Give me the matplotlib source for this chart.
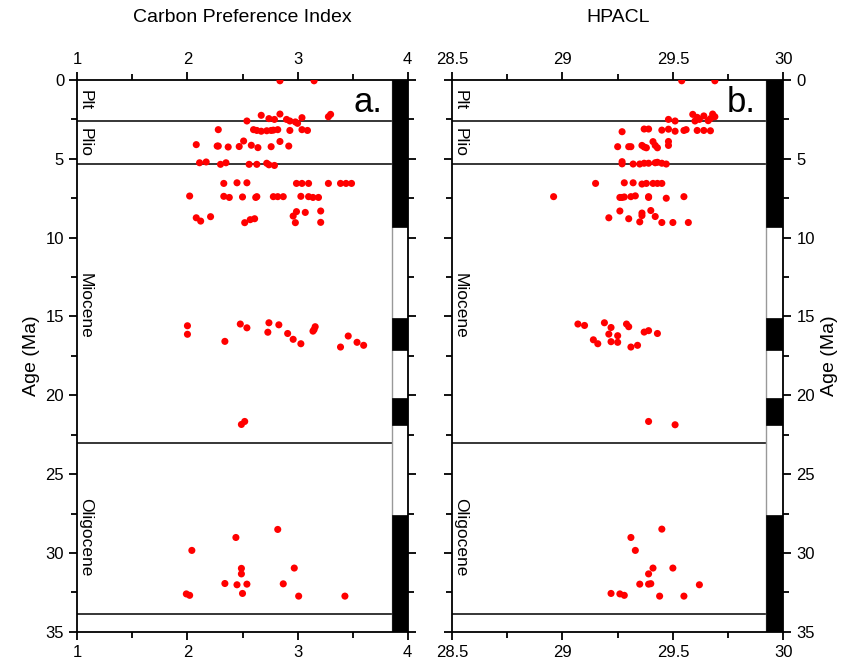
import matplotlib.pyplot as plt
from matplotlib.patches import Rectangle
from matplotlib.ticker import MultipleLocator

plt.rcParams['font.family'] = ['Liberation Sans', 'DejaVu Sans']

# Carbon Preference Index vs age (Ma)
cpi_val = [2.84, 3.15,
           2.67, 2.74, 2.79, 2.84, 2.90, 2.93, 2.98, 3.00, 3.04, 3.28, 3.30, 2.54,
           2.28, 2.60, 2.63, 2.67, 2.72, 2.76, 2.78, 2.82, 2.93, 3.04, 3.09,
           2.08, 2.27, 2.28, 2.37, 2.47, 2.51, 2.58, 2.64, 2.76, 2.84, 2.92,
           2.11, 2.17, 2.30, 2.35, 2.56, 2.63, 2.72, 2.74, 2.79,
           2.33, 2.45, 2.54, 2.99, 3.04, 3.10, 3.28, 3.39, 3.44, 3.49,
           2.02, 2.33, 2.38, 2.50, 2.62, 2.63, 2.78, 2.82, 2.87, 3.03, 3.10, 3.14, 3.19,
           2.08, 2.12, 2.21, 2.52, 2.57, 2.61, 2.96, 2.99, 3.07, 2.98, 3.21, 3.21,
           2.00, 2.00, 2.34, 2.48, 2.54, 2.74, 2.73, 2.83, 2.91, 2.96, 3.03,
           3.16, 3.15, 3.14, 3.39, 3.46, 3.54, 3.60, 2.49, 2.52,
           2.04, 1.99, 2.02, 2.44, 2.82, 2.49, 2.49, 2.34, 2.45, 2.54, 2.50,
           2.97, 2.87, 3.01, 3.43]
cpi_age = [0.05, 0.05,
           2.24, 2.45, 2.50, 2.16, 2.50, 2.60, 2.66, 2.75, 2.39, 2.33, 2.18, 2.60,
           3.15, 3.15, 3.20, 3.25, 3.22, 3.20, 3.18, 3.15, 3.20, 3.15, 3.20,
           4.10, 4.19, 4.19, 4.25, 4.22, 3.87, 4.14, 4.29, 4.23, 3.90, 4.19,
           5.25, 5.20, 5.35, 5.25, 5.35, 5.35, 5.28, 5.38, 5.42,
           6.56, 6.52, 6.52, 6.56, 6.56, 6.56, 6.56, 6.56, 6.56, 6.56,
           7.36, 7.38, 7.45, 7.42, 7.45, 7.40, 7.40, 7.40, 7.40, 7.38, 7.40, 7.45, 7.45,
           8.74, 8.95, 8.67, 9.05, 8.86, 8.80, 8.63, 8.35, 8.40, 9.05, 8.31, 9.03,
           15.59, 16.13, 16.58, 15.48, 15.72, 15.40, 16.00, 15.53, 16.08, 16.45, 16.73,
           15.65, 15.83, 15.93, 16.94, 16.24, 16.64, 16.83, 21.85, 21.66,
           29.84, 32.60, 32.69, 29.02, 28.51, 30.98, 31.33, 31.94, 32.02, 31.98, 32.57,
           30.96, 31.96, 32.74, 32.74]

# HPACL vs age (Ma)
hpacl_val = [29.54, 29.69,
             29.59, 29.61, 29.60, 29.64, 29.66, 29.68, 29.69, 29.67, 29.62, 29.48, 29.51,
             29.27, 29.37, 29.39, 29.45, 29.48, 29.51, 29.55, 29.56, 29.61, 29.64, 29.67,
             29.25, 29.30, 29.31, 29.36, 29.37, 29.38, 29.41, 29.42, 29.43, 29.48, 29.48,
             29.27, 29.27, 29.32, 29.35, 29.37, 29.39, 29.42, 29.43, 29.45, 29.47,
             29.15, 29.28, 29.32, 29.36, 29.38, 29.41, 29.43, 29.45,
             28.96, 29.26, 29.27, 29.28, 29.31, 29.33, 29.39, 29.39, 29.47, 29.55,
             29.26, 29.21, 29.30, 29.36, 29.36, 29.35, 29.40, 29.42, 29.45, 29.50, 29.57,
             29.07, 29.10, 29.19, 29.22, 29.21, 29.25, 29.14, 29.16, 29.22, 29.25,
             29.29, 29.30, 29.31, 29.34, 29.37, 29.39, 29.43, 29.39, 29.51,
             29.45, 29.31, 29.33, 29.41, 29.39, 29.50, 29.35, 29.39, 29.40, 29.62,
             29.22, 29.26, 29.28, 29.44, 29.55]
hpacl_age = [0.05, 0.05,
             2.18, 2.37, 2.60, 2.28, 2.58, 2.16, 2.33, 2.45, 2.50, 2.50, 2.60,
             3.28, 3.11, 3.11, 3.18, 3.12, 3.25, 3.20, 3.15, 3.20, 3.20, 3.22,
             4.23, 4.23, 4.23, 4.15, 4.25, 4.30, 3.91, 4.15, 4.30, 3.90, 4.15,
             5.32, 5.18, 5.33, 5.33, 5.28, 5.28, 5.25, 5.22, 5.28, 5.33,
             6.56, 6.52, 6.52, 6.60, 6.56, 6.56, 6.56, 6.56,
             7.40, 7.45, 7.45, 7.42, 7.40, 7.35, 7.40, 7.45, 7.50, 7.40,
             8.31, 8.74, 8.80, 8.44, 8.60, 9.00, 8.28, 8.66, 9.04, 9.04, 9.04,
             15.48, 15.57, 15.40, 15.70, 16.12, 16.22, 16.48, 16.73, 16.60, 16.64,
             15.48, 15.65, 16.94, 16.83, 15.99, 15.90, 16.08, 21.66, 21.87,
             28.49, 29.02, 29.84, 30.96, 31.33, 30.96, 31.98, 31.98, 31.95, 32.02,
             32.57, 32.60, 32.69, 32.74, 32.74]

# geologic time scale
epoch_bounds = [2.58, 5.33, 23.03, 33.9]
epoch_names = ['Plt', 'Plio', 'Miocene', 'Oligocene']
epoch_mid = [1.3, 3.95, 14.3, 29.0]
# normal polarity chrons (black)
chron_black = [(0, 9.3), (15.1, 17.15), (20.2, 21.9), (27.6, 35)]

fig = plt.figure(figsize=(8.46, 6.65), dpi=100)
ax1 = fig.add_axes([0.0914, 0.05, 0.3905, 0.8297])
ax2 = fig.add_axes([0.5343, 0.05, 0.3916, 0.8297])

panels = [
    (ax1, cpi_val, cpi_age, (1, 4), 0.5, 1, 'Carbon Preference Index', 'a.', 0.14),
    (ax2, hpacl_val, hpacl_age, (28.5, 30), 0.25, 0.5, 'HPACL', 'b.', 0.08),
]

for ax, xv, yv, xlim, minor, major, title, tag, barw in panels:
    x0, x1 = xlim
    bar_left = x1 - barw
    ax.set_xlim(x0, x1)
    ax.set_ylim(35, 0)
    ax.xaxis.set_major_locator(MultipleLocator(major))
    ax.xaxis.set_minor_locator(MultipleLocator(minor))
    ax.yaxis.set_major_locator(MultipleLocator(5))
    ax.yaxis.set_minor_locator(MultipleLocator(2.5))
    ax.tick_params(which='both', direction='out', top=True, right=True,
                   labeltop=True, labelbottom=True, labelsize=12, width=1.3)
    ax.tick_params(which='major', length=6)
    ax.tick_params(which='minor', length=4)
    for s in ax.spines.values():
        s.set_linewidth(1.3)

    # polarity column
    ax.add_patch(Rectangle((bar_left, 0), barw, 35, facecolor='white',
                           edgecolor='#999999', lw=1.0, zorder=2))
    for top, bot in chron_black:
        ax.add_patch(Rectangle((bar_left, top), barw, bot - top,
                               facecolor='black', edgecolor='black', lw=0.5, zorder=3))

    # epoch boundaries and names
    for b in epoch_bounds:
        ax.plot([x0, bar_left], [b, b], color='black', lw=1.1, zorder=1)
    lx = x0 + 0.025 * (x1 - x0)
    for name, ym in zip(epoch_names, epoch_mid):
        ax.text(lx, ym, name, rotation=-90, ha='center', va='center', fontsize=12.5)

    ax.scatter(xv, yv, s=26, color='red', edgecolors='none', zorder=4)
    ax.text(bar_left - 0.03 * (x1 - x0), 1.4, tag, ha='right', va='center', fontsize=25)
    ax.set_title(title, fontsize=14, pad=42)

ax1.set_xticks([1, 2, 3, 4])
ax1.set_xticklabels(['1', '2', '3', '4'])
ax2.set_xticks([28.5, 29, 29.5, 30])
ax2.set_xticklabels(['28.5', '29', '29.5', '30'])

ax1.set_ylabel('Age (Ma)', fontsize=14)
ax1.tick_params(labelright=False)
ax2.tick_params(labelleft=False, labelright=True)
ax2.yaxis.set_label_position('right')
ax2.set_ylabel('Age (Ma)', fontsize=14)

fig.savefig('out.png', dpi=100)
